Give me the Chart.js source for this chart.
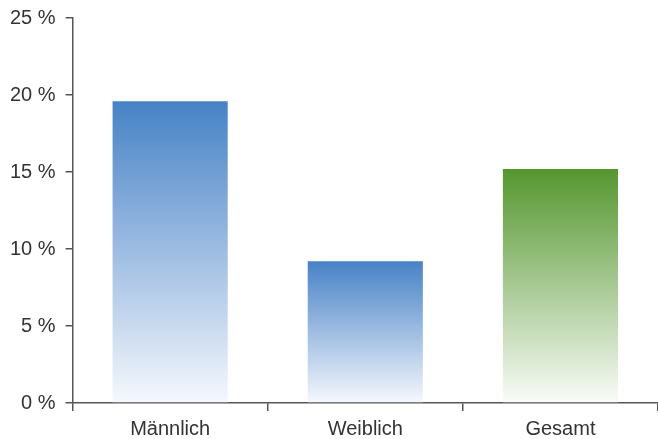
<!DOCTYPE html>
<html lang="de">
<head>
    <meta charset="UTF-8">
    <title>Anteil nach Geschlecht</title>
    <script src="https://cdn.jsdelivr.net/npm/chart.js"></script>
    <style>
        html, body {
            margin: 0;
            padding: 0;
            background: #ffffff;
        }
        #wrap {
            width: 658px;
            height: 439px;
        }
    </style>
</head>
<body>
    <div id="wrap"><canvas id="chart"></canvas></div>

    <script>
        const categories = ['Männlich', 'Weiblich', 'Gesamt'];
        const values = [19.6, 9.2, 15.2];
        const topColors = ['#4782c6', '#4782c6', '#55962f'];
        const bottomColors = ['rgba(246,248,253,1)', 'rgba(246,248,253,1)', 'rgba(250,252,249,1)'];
        const yTicks = [0, 5, 10, 15, 20, 25];

        const axisColor = '#555555';
        const textColor = '#333333';
        const font = { family: 'Liberation Sans, Arial, sans-serif', size: 20 };

        // gradient from the top of each bar down to the zero line
        function barGradient(context) {
            const chart = context.chart;
            const area = chart.chartArea;
            if (!area) return topColors[context.dataIndex];
            const y = chart.scales.y;
            const top = y.getPixelForValue(values[context.dataIndex]);
            const bottom = y.getPixelForValue(0);
            const g = chart.ctx.createLinearGradient(0, top, 0, bottom);
            g.addColorStop(0, topColors[context.dataIndex]);
            g.addColorStop(1, bottomColors[context.dataIndex]);
            return g;
        }

        new Chart(document.getElementById('chart'), {
            type: 'bar',
            data: {
                labels: categories,
                datasets: [{
                    data: values,
                    backgroundColor: barGradient,
                    borderWidth: 0,
                    categoryPercentage: 0.59,
                    barPercentage: 1
                }]
            },
            options: {
                responsive: true,
                maintainAspectRatio: false,
                animation: false,
                layout: { padding: { top: 0, right: 0, bottom: -8, left: 0 } },
                plugins: {
                    legend: { display: false },
                    tooltip: { enabled: false }
                },
                scales: {
                    x: {
                        offset: true,
                        grid: {
                            offset: true,
                            drawOnChartArea: false,
                            drawTicks: true,
                            tickLength: 8,
                            color: axisColor,
                            lineWidth: 1.5
                        },
                        border: { color: axisColor, width: 1.5 },
                        ticks: {
                            color: textColor,
                            padding: 6,
                            font: font
                        }
                    },
                    y: {
                        min: 0,
                        max: 25,
                        afterBuildTicks: axis => {
                            axis.ticks = yTicks.map(v => ({ value: v }));
                        },
                        grid: {
                            drawOnChartArea: false,
                            drawTicks: true,
                            tickLength: 7,
                            color: axisColor,
                            lineWidth: 1.5
                        },
                        border: { color: axisColor, width: 1.5 },
                        ticks: {
                            color: textColor,
                            padding: 10,
                            font: { family: font.family, size: 20, lineHeight: 0.8 },
                            callback: v => v + ' %'
                        }
                    }
                }
            }
        });
    </script>
</body>
</html>
